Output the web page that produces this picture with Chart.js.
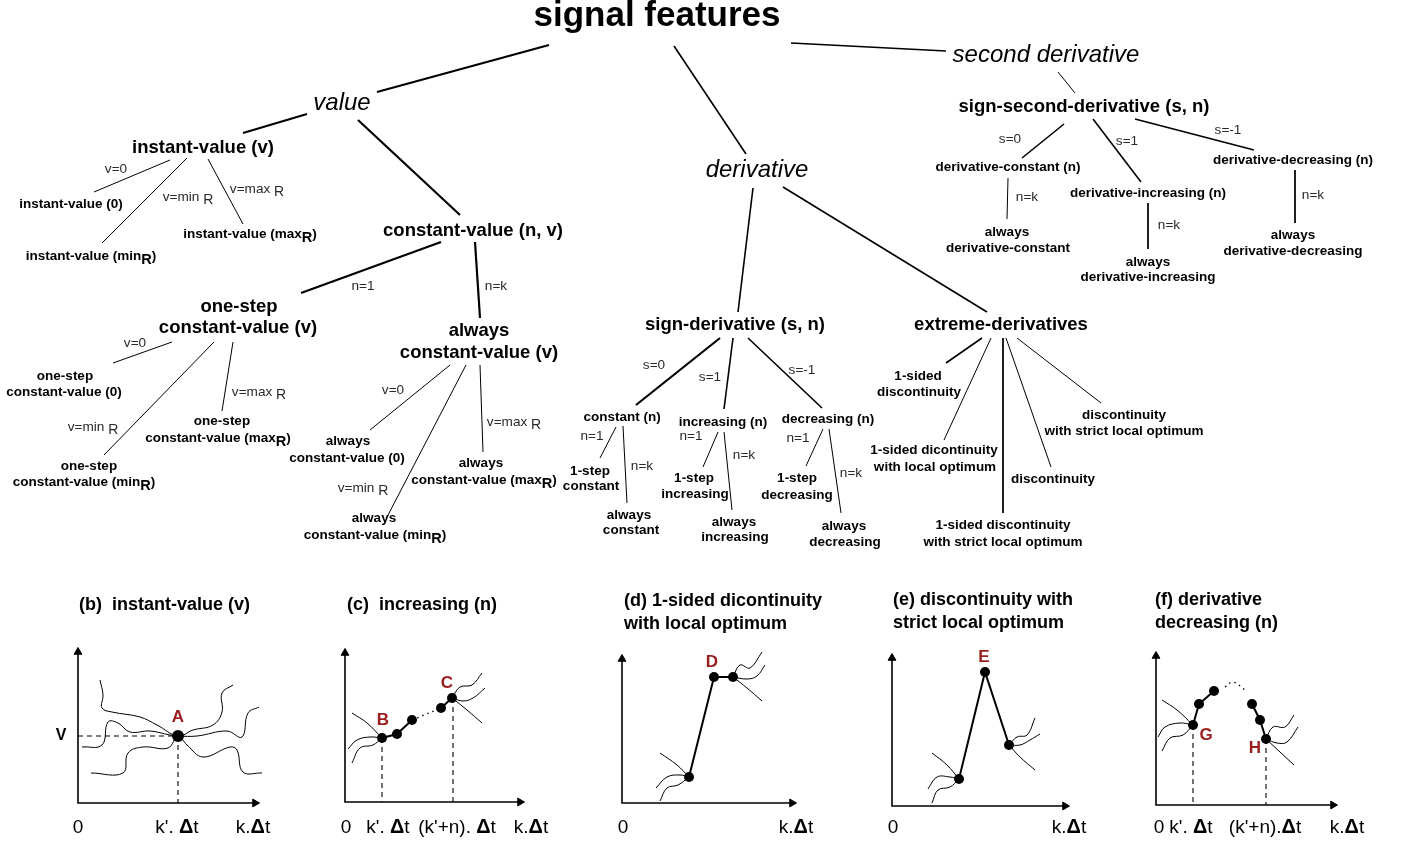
<!DOCTYPE html>
<html>
<head>
<meta charset="utf-8">
<script src="https://cdn.jsdelivr.net/npm/chart.js@4.4.1/dist/chart.umd.min.js"></script>
<style>
  html, body { margin: 0; padding: 0; background: #fff; }
  canvas { display: block; }
</style>
</head>
<body>
<canvas id="diagram" width="1411" height="845"></canvas>
<script>
// Signal features taxonomy with example panels (b)-(f)

const FONT = "'Liberation Sans', Arial, Helvetica, sans-serif";

// ---- tree labels: [text, x, y]  ("_R" = subscript R) ----
const rootLabel = ['signal features', 657, 16];

const branchLabels = [
    ['value', 342, 103],
    ['derivative', 757, 170],
    ['second derivative', 1046, 55]
];

const nodeLabels = [
    ['instant-value (v)', 203, 148],
    ['constant-value (n, v)', 473, 231],
    ['one-step', 239, 307],
    ['constant-value (v)', 238, 328],
    ['always', 479, 331],
    ['constant-value (v)', 479, 353],
    ['sign-derivative (s, n)', 735, 325],
    ['extreme-derivatives', 1001, 325],
    ['sign-second-derivative (s, n)', 1084, 107]
];

const leafLabels = [
    ['instant-value (0)', 71, 204],
    ['instant-value (min_R)', 91, 256],
    ['instant-value (max_R)', 250, 234],
    ['one-step', 65, 376], ['constant-value (0)', 64, 392],
    ['one-step', 222, 421], ['constant-value (max_R)', 218, 438],
    ['one-step', 89, 466], ['constant-value (min_R)', 84, 482],
    ['always', 348, 441], ['constant-value (0)', 347, 458],
    ['always', 481, 463], ['constant-value (max_R)', 484, 480],
    ['always', 374, 518], ['constant-value (min_R)', 375, 535],
    ['constant (n)', 622, 417],
    ['increasing (n)', 723, 422],
    ['decreasing (n)', 828, 419],
    ['1-step', 590, 471], ['constant', 591, 486],
    ['always', 629, 515], ['constant', 631, 530],
    ['1-step', 694, 478], ['increasing', 695, 494],
    ['always', 734, 522], ['increasing', 735, 537],
    ['1-step', 797, 478], ['decreasing', 797, 495],
    ['always', 844, 526], ['decreasing', 845, 542],
    ['1-sided', 918, 376], ['discontinuity', 919, 392],
    ['1-sided dicontinuity', 934, 450], ['with local optimum', 935, 467],
    ['discontinuity', 1053, 479],
    ['1-sided discontinuity', 1003, 525], ['with strict local optimum', 1003, 542],
    ['discontinuity', 1124, 415], ['with strict local optimum', 1124, 431],
    ['derivative-constant (n)', 1008, 167],
    ['derivative-increasing (n)', 1148, 193],
    ['derivative-decreasing (n)', 1293, 160],
    ['always', 1007, 232], ['derivative-constant', 1008, 248],
    ['always', 1148, 262], ['derivative-increasing', 1148, 277],
    ['always', 1293, 235], ['derivative-decreasing', 1293, 251]
];

const edgeLabels = [
    ['v=0', 116, 169], ['v=min _R', 188, 197], ['v=max _R', 257, 189],
    ['n=1', 363, 286], ['n=k', 496, 286],
    ['v=0', 135, 343], ['v=max _R', 259, 392], ['v=min _R', 93, 427],
    ['v=0', 393, 390], ['v=max _R', 514, 422], ['v=min _R', 363, 488],
    ['s=0', 654, 365], ['s=1', 710, 377], ['s=-1', 802, 370],
    ['n=1', 592, 436], ['n=k', 642, 466],
    ['n=1', 691, 436], ['n=k', 744, 455],
    ['n=1', 798, 438], ['n=k', 851, 473],
    ['s=0', 1010, 139], ['s=1', 1127, 141], ['s=-1', 1228, 130],
    ['n=k', 1027, 197], ['n=k', 1169, 225], ['n=k', 1313, 195]
];

// ---- tree edges: [x1, y1, x2, y2] ----
const heavyEdges = [
    [549, 45, 377, 92], [307, 114, 243, 133], [358, 120, 460, 215],
    [441, 242, 301, 293], [475, 242, 480, 318], [720, 338, 636, 405]
];
const mediumEdges = [
    [674, 46, 746, 154], [791, 43, 946, 51], [753, 188, 738, 312],
    [783, 187, 987, 312], [733, 338, 724, 409], [748, 338, 822, 408],
    [982, 338, 946, 363], [1064, 124, 1022, 158], [1093, 119, 1141, 182],
    [1135, 119, 1254, 150]
];
const lightEdges = [
    [170, 160, 94, 192], [187, 158, 102, 243], [208, 159, 243, 224],
    [172, 342, 113, 363], [214, 342, 104, 455], [233, 342, 222, 411],
    [450, 365, 370, 430], [466, 365, 387, 517], [480, 365, 483, 452],
    [616, 427, 600, 458], [623, 426, 627, 503],
    [718, 432, 703, 467], [724, 432, 732, 510],
    [823, 429, 806, 466], [829, 429, 841, 513],
    [991, 338, 944, 440], [1003, 338, 1003, 513], [1006, 338, 1051, 467],
    [1017, 338, 1101, 403],
    [1058, 72, 1075, 93],
    [1008, 178, 1007, 219], [1148, 203, 1148, 249], [1295, 170, 1295, 223]
];

// ---- example panels: points are [dx, dy] from each panel's axis corner ----
const panelTitles = [
    ['(b)  instant-value (v)', 79, 605],
    ['(c)  increasing (n)', 347, 605],
    ['(d) 1-sided dicontinuity', 624, 601], ['with local optimum', 624, 624],
    ['(e) discontinuity with', 893, 600], ['strict local optimum', 893, 623],
    ['(f) derivative', 1155, 600], ['decreasing (n)', 1155, 623]
];

const bCurves = [
    [[22, 123], [25, 108], [24, 95], [34, 91], [62, 86], [79, 78], [100, 67], [115, 73], [135, 78], [144, 91], [144, 110], [155, 118]],
    [[4, 56], [24, 58], [30, 81], [40, 80], [52, 71], [72, 72], [92, 68], [100, 67], [119, 67], [149, 72], [164, 66], [170, 90], [181, 96]],
    [[13, 30], [45, 30], [50, 50], [65, 56], [90, 55], [100, 67], [109, 58], [125, 46], [152, 56], [159, 53], [165, 31], [184, 30]]
];
const bDots = [[100, 67]];
const bGuides = [[[0, 67], [100, 67]], [[100, 67], [100, 0]]];
const bLetters = [['A', 100, 86]];
const bTicks = [['0', 0], ["k'. Δt", 99], ['k.Δt', 175]];

const cCurves = [
    [[7, 89], [22, 79], [37, 64]],
    [[3, 53], [12, 62], [25, 65], [37, 64]],
    [[7, 39], [15, 54], [28, 57], [37, 64]],
    [[107, 104], [115, 115], [127, 117], [137, 129]],
    [[107, 104], [118, 101], [128, 104], [140, 114]],
    [[107, 104], [122, 92], [137, 79]]
];
const cSteps = [[[37, 64], [52, 68], [67, 82]], [[96, 94], [107, 104]]];
const cDotted = [[[67, 82], [96, 94]]];
const cDots = [[37, 64], [52, 68], [67, 82], [96, 94], [107, 104]];
const cGuides = [[[37, 64], [37, 0]], [[108, 104], [108, 0]]];
const cLetters = [['B', 38, 82], ['C', 102, 119]];
const cTicks = [['0', 1], ["k'. Δt", 43], ["(k'+n). Δt", 112], ['k.Δt', 186]];

const dCurves = [
    [[38, 50], [55, 38], [67, 26]],
    [[34, 15], [45, 26], [58, 28], [67, 26]],
    [[38, 2], [45, 15], [56, 18], [67, 26]],
    [[111, 126], [118, 138], [128, 135], [140, 151]],
    [[111, 126], [125, 124], [135, 127], [143, 138]],
    [[111, 126], [125, 115], [140, 102]]
];
const dSteps = [[[67, 26], [92, 126], [111, 126]]];
const dDots = [[67, 26], [92, 126], [111, 126]];
const dLetters = [['D', 90, 141]];
const dTicks = [['0', 1], ['k.Δt', 174]];

const eCurves = [
    [[40, 53], [55, 41], [67, 27]],
    [[36, 17], [45, 29], [58, 29], [67, 27]],
    [[40, 3], [46, 16], [58, 19], [67, 27]],
    [[117, 61], [125, 69], [135, 71], [143, 88]],
    [[117, 61], [128, 61], [138, 66], [148, 72]],
    [[117, 61], [128, 49], [143, 36]]
];
const eSteps = [[[67, 27], [93, 134], [117, 61]]];
const eDots = [[67, 27], [93, 134], [117, 61]];
const eLetters = [['E', 92, 149]];
const eTicks = [['0', 1], ['k.Δt', 177]];

const fCurves = [
    [[6, 105], [21, 95], [37, 80]],
    [[2, 68], [9, 78], [24, 82], [37, 80]],
    [[6, 54], [14, 67], [27, 70], [37, 80]],
    [[110, 66], [117, 78], [129, 78], [138, 90]],
    [[110, 66], [121, 62], [131, 63], [142, 78]],
    [[110, 66], [124, 53], [138, 40]]
];
const fSteps = [[[37, 80], [43, 101], [58, 114]], [[96, 101], [104, 85], [110, 66]]];
const fDotted = [[[69, 118], [77, 123], [89, 115]]];
const fDots = [[37, 80], [43, 101], [58, 114], [96, 101], [104, 85], [110, 66]];
const fGuides = [[[37, 80], [37, 0]], [[110, 66], [110, 0]]];
const fLetters = [['G', 50, 70], ['H', 99, 57]];
const fTicks = [['0', 3], ["k'. Δt", 35], ["(k'+n).Δt", 109], ['k.Δt', 191]];

// panel layout table built from the arrays above
const panels = [
    { origin: [78, 803], axis: [177, 151], curves: bCurves, steps: [], dotted: [], dots: bDots, guides: bGuides, letters: bLetters, ticks: bTicks, dotR: 6 },
    { origin: [345, 802], axis: [175, 149], curves: cCurves, steps: cSteps, dotted: cDotted, dots: cDots, guides: cGuides, letters: cLetters, ticks: cTicks, dotR: 5 },
    { origin: [622, 803], axis: [170, 144], curves: dCurves, steps: dSteps, dotted: [], dots: dDots, guides: [], letters: dLetters, ticks: dTicks, dotR: 5 },
    { origin: [892, 806], axis: [173, 148], curves: eCurves, steps: eSteps, dotted: [], dots: eDots, guides: [], letters: eLetters, ticks: eTicks, dotR: 5 },
    { origin: [1156, 805], axis: [177, 149], curves: fCurves, steps: fSteps, dotted: fDotted, dots: fDots, guides: fGuides, letters: fLetters, ticks: fTicks, dotR: 5 }
];
const yAxisLabel = ['V', -17, 67]; // only panel (b)
const tickRowY = 828;

// ---- dataset helpers ----
function toXY(origin, pts) {
    return pts.map(p => ({ x: origin[0] + p[0], y: origin[1] - p[1] }));
}

function lineSet(data, width, extra) {
    return Object.assign({
        type: 'scatter',
        data: data,
        showLine: true,
        borderColor: '#000',
        backgroundColor: '#000',
        borderWidth: width,
        pointRadius: 0,
        pointHoverRadius: 0,
        tension: 0,
        fill: false,
        order: 1
    }, extra || {});
}

const datasets = [];

function addEdges(list, width) {
    list.forEach(e => {
        datasets.push(lineSet([{ x: e[0], y: e[1] }, { x: e[2], y: e[3] }], width));
    });
}
addEdges(heavyEdges, 2.2);
addEdges(mediumEdges, 1.6);
addEdges(lightEdges, 1.0);

panels.forEach(p => {
    const o = p.origin;
    // axes with arrow heads
    datasets.push(lineSet(toXY(o, [[0, p.axis[1]], [0, 0], [p.axis[0], 0]]), 1.6, {
        pointStyle: 'triangle',
        pointRadius: [4.5, 0, 4.5],
        pointRotation: [0, 0, 90],
        pointBackgroundColor: '#000',
        pointBorderColor: '#000',
        pointBorderWidth: 1
    }));
    p.guides.forEach(g => datasets.push(lineSet(toXY(o, g), 1.1, { borderDash: [5, 4] })));
    p.curves.forEach(c => datasets.push(lineSet(toXY(o, c), 1.0, { tension: 0.4 })));
    p.steps.forEach(s => datasets.push(lineSet(toXY(o, s), 2.0)));
    p.dotted.forEach(d => datasets.push(lineSet(toXY(o, d), 1.4, { borderDash: [1.5, 4], tension: 0.4 })));
    datasets.push({
        type: 'scatter',
        data: toXY(o, p.dots),
        showLine: false,
        pointRadius: p.dotR,
        pointHoverRadius: p.dotR,
        pointBackgroundColor: '#000',
        pointBorderColor: '#000',
        pointBorderWidth: 0,
        order: 0
    });
});

// ---- rich text: "_X" subscript, Δ in bold ----
function drawRich(ctx, str, x, y, opt) {
    const runs = [];
    const subScale = opt.subScale || 1.08;
    const subDrop = opt.subDrop || 0.3;
    for (let i = 0; i < str.length; i++) {
        const ch = str[i];
        if (ch === '_' && i + 1 < str.length) {
            runs.push({ t: str[i + 1], size: opt.size * subScale, weight: opt.weight, dy: opt.size * subDrop });
            i++;
        } else if (ch === 'Δ') {
            runs.push({ t: ch, size: opt.size * 1.05, weight: 'bold', dy: 0 });
        } else {
            const last = runs[runs.length - 1];
            if (last && last.plain) last.t += ch;
            else runs.push({ t: ch, size: opt.size, weight: opt.weight, dy: 0, plain: true });
        }
    }
    let total = 0;
    runs.forEach(r => {
        ctx.font = `${opt.style || 'normal'} ${r.weight} ${r.size}px ${FONT}`;
        r.w = ctx.measureText(r.t).width;
        total += r.w;
    });
    let cx = opt.align === 'left' ? x : x - total / 2;
    ctx.fillStyle = opt.color || '#000';
    ctx.textAlign = 'left';
    runs.forEach(r => {
        ctx.font = `${opt.style || 'normal'} ${r.weight} ${r.size}px ${FONT}`;
        ctx.fillText(r.t, cx, y + r.dy);
        cx += r.w;
    });
}

const textPlugin = {
    id: 'diagramText',
    afterDatasetsDraw(chart) {
        const ctx = chart.ctx;
        const sx = chart.scales.x, sy = chart.scales.y;
        const px = v => sx.getPixelForValue(v);
        const py = v => sy.getPixelForValue(v);
        ctx.save();
        ctx.textBaseline = 'middle';

        const put = (item, opt) => drawRich(ctx, item[0], px(item[1]), py(item[2]), opt);

        put(rootLabel, { size: 35, weight: 'bold' });
        branchLabels.forEach(l => put(l, { size: 24, weight: 'normal', style: 'italic' }));
        nodeLabels.forEach(l => put(l, { size: 18.5, weight: 'bold' }));
        leafLabels.forEach(l => put(l, { size: 13.5, weight: 'bold' }));
        edgeLabels.forEach(l => put(l, { size: 13.6, weight: 'normal', color: '#2a2a2a', subScale: 1.03, subDrop: 0.22 }));
        panelTitles.forEach(l => put(l, { size: 18, weight: 'bold', align: 'left' }));

        panels.forEach((p, i) => {
            const o = p.origin;
            p.letters.forEach(l => drawRich(ctx, l[0], px(o[0] + l[1]), py(o[1] - l[2]),
                { size: 17, weight: 'bold', color: '#9b1c1c' }));
            p.ticks.forEach(t => drawRich(ctx, t[0], px(o[0] + t[1]), py(tickRowY),
                { size: 19, weight: 'normal' }));
            if (i === 0) {
                drawRich(ctx, yAxisLabel[0], px(o[0] + yAxisLabel[1]), py(o[1] - yAxisLabel[2]),
                    { size: 16, weight: 'bold' });
            }
        });
        ctx.restore();
    }
};

new Chart(document.getElementById('diagram'), {
    type: 'scatter',
    data: { datasets: datasets },
    options: {
        responsive: false,
        animation: false,
        events: [],
        layout: { padding: 0, autoPadding: false },
        scales: {
            x: { type: 'linear', min: 0, max: 1411, display: false },
            y: { type: 'linear', min: 0, max: 845, reverse: true, display: false }
        },
        plugins: {
            legend: { display: false },
            tooltip: { enabled: false }
        }
    },
    plugins: [textPlugin]
});
</script>
</body>
</html>
